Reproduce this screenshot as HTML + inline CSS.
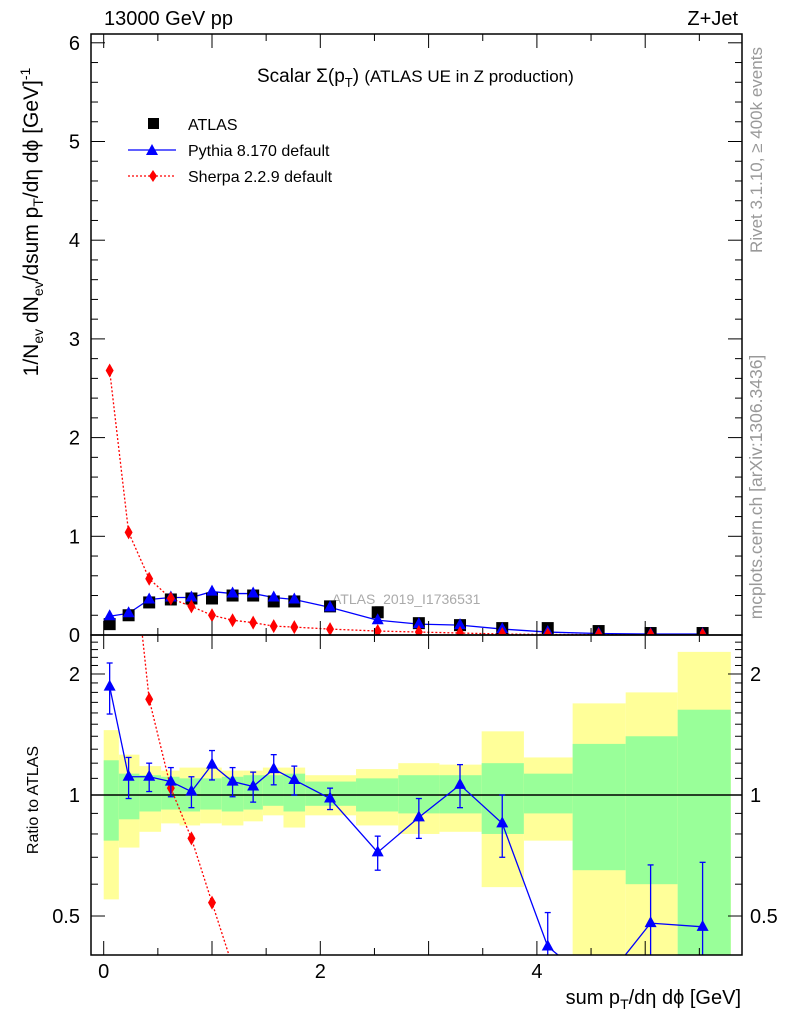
<!DOCTYPE html>
<html><head><meta charset="utf-8">
<style>
html,body{margin:0;padding:0;background:#fff;overflow:hidden;width:786px;height:1024px;}
svg{display:block;font-family:"Liberation Sans",sans-serif;}
</style></head>
<body>
<svg id="chart" width="786" height="1024" viewBox="0 0 786 1024" xmlns="http://www.w3.org/2000/svg">
<text x="104" y="25" font-size="20">13000 GeV pp</text>
<text x="738" y="25" font-size="20" text-anchor="end">Z+Jet</text>
<text x="257" y="82" font-size="19">Scalar Σ(p<tspan font-size="13" dy="5">T</tspan><tspan dy="-5">) </tspan><tspan font-size="17">(ATLAS UE in Z production)</tspan></text>
<text transform="translate(762,150) rotate(-90)" font-size="17" fill="#999" text-anchor="middle">Rivet 3.1.10, ≥ 400k events</text>
<text transform="translate(762,487) rotate(-90)" font-size="17.5" fill="#999" text-anchor="middle">mcplots.cern.ch [arXiv:1306.3436]</text>
<text x="332" y="604" font-size="14" fill="#aaa">ATLAS_2019_I1736531</text>
<text transform="translate(38,222) rotate(-90)" font-size="21" text-anchor="middle">1/N<tspan font-size="14" dy="5">ev</tspan><tspan dy="-5"> dN</tspan><tspan font-size="14" dy="5">ev</tspan><tspan dy="-5">/dsum p</tspan><tspan font-size="14" dy="5">T</tspan><tspan dy="-5">/dη dϕ  [GeV]</tspan><tspan font-size="14" dy="-8">-1</tspan></text>
<text transform="translate(38,800) rotate(-90)" font-size="16" text-anchor="middle">Ratio to ATLAS</text>
<text x="741" y="1004" font-size="20" text-anchor="end">sum p<tspan font-size="14" dy="5">T</tspan><tspan dy="-5">/dη dϕ [GeV]</tspan></text>
<g id="legend">
<rect x="148" y="118" width="11" height="11" fill="#000"/>
<text x="188" y="130" font-size="16">ATLAS</text>
<line x1="128" y1="150" x2="176" y2="150" stroke="#00f" stroke-width="1.3"/>
<path d="M152,144 L158,155 L146,155Z" fill="#00f"/>
<text x="188" y="156" font-size="16">Pythia 8.170 default</text>
<line x1="128" y1="176" x2="176" y2="176" stroke="#f00" stroke-width="1.3" stroke-dasharray="2,2"/>
<path d="M153,170 L157,176 L153,182 L149,176Z" fill="#f00"/>
<text x="188" y="182" font-size="16">Sherpa 2.2.9 default</text>
</g>
<g id="plot"></g>
</svg>
<script>
const centers=[0.055,0.23,0.42,0.62,0.81,1.0,1.19,1.38,1.57,1.76,2.09,2.53,2.91,3.29,3.68,4.1,4.57,5.05,5.53];
const edges=[0,0.14,0.33,0.53,0.7,0.89,1.09,1.29,1.47,1.66,1.86,2.33,2.72,3.1,3.49,3.88,4.33,4.82,5.3,5.79];
const atlas=[0.11,0.20,0.33,0.36,0.37,0.37,0.40,0.40,0.34,0.34,0.29,0.23,0.12,0.10,0.07,0.07,0.04,0.02,0.02];
const pythia=[0.19,0.22,0.36,0.38,0.38,0.44,0.42,0.42,0.38,0.36,0.28,0.15,0.11,0.10,0.06,0.03,0.015,0.01,0.01];
const sherpa=[2.68,1.04,0.57,0.37,0.29,0.20,0.15,0.125,0.09,0.08,0.06,0.04,0.03,0.02,0.01,0.005,0.004,0.003,0.003];
const pyRatio=[1.86,1.11,1.11,1.08,1.02,1.19,1.08,1.05,1.16,1.09,0.98,0.72,0.88,1.06,0.85,0.42,0.33,0.48,0.47];
const pyRatioErr=[0.27,0.13,0.09,0.09,0.09,0.1,0.09,0.09,0.1,0.09,0.06,0.07,0.1,0.13,0.15,0.09,0.05,0.19,0.21];
const shRatio=[24.4,5.2,1.73,1.04,0.78,0.54,0.375,0.31,0.26,0.24,0.21,0.17,0.25,0.2,0.14,0.07,0.1,0.15,0.15];
const yelHi=[1.45,1.26,1.18,1.15,1.17,1.17,1.15,1.15,1.17,1.17,1.12,1.16,1.20,1.19,1.44,1.24,1.69,1.80,2.27];
const yelLo=[0.55,0.74,0.81,0.85,0.84,0.85,0.84,0.86,0.89,0.83,0.89,0.84,0.80,0.81,0.59,0.77,0.3,0.3,0.3];
const grnHi=[1.22,1.13,1.12,1.11,1.10,1.10,1.11,1.12,1.12,1.13,1.08,1.10,1.12,1.12,1.20,1.13,1.34,1.40,1.63];
const grnLo=[0.77,0.87,0.91,0.92,0.91,0.92,0.91,0.92,0.94,0.91,0.94,0.91,0.90,0.90,0.80,0.90,0.65,0.60,0.3];
const yTicks=[0,1,2,3,4,5,6];
const xTicks=[0,2,4];
const rTicks=[0.5,1,2];

const NS="http://www.w3.org/2000/svg";
const g=document.getElementById('plot');
const L=91,R=742,T=34,M=635,B=955;
const X=v=>103.7+v*108.3;
const Y=v=>635-v*98.7;
const RY=r=>795-Math.log10(r)*402;
function mk(tag,attrs,parent){const e=document.createElementNS(NS,tag);for(const k in attrs)e.setAttribute(k,attrs[k]);(parent||g).appendChild(e);return e;}
const clipDefs=mk('defs',{});
const c1=mk('clipPath',{id:'ctop'},clipDefs);mk('rect',{x:L,y:T,width:R-L,height:M-T},c1);
const c2=mk('clipPath',{id:'cbot'},clipDefs);mk('rect',{x:L,y:M,width:R-L,height:B-M},c2);
const gt=mk('g',{'clip-path':'url(#ctop)'});
const gb=mk('g',{'clip-path':'url(#cbot)'});

for(let i=0;i<centers.length;i++){
  const x0=X(edges[i]),x1=X(edges[i+1]);
  const b=mk('rect',{x:x0,y:RY(yelHi[i]),width:x1-x0,height:RY(yelLo[i])-RY(yelHi[i]),fill:'#ffff99'},gb);
  
  
  const gg=mk('rect',{x:x0,y:RY(grnHi[i]),width:x1-x0,height:RY(grnLo[i])-RY(grnHi[i]),fill:'#99ff99'},gb);
  
  
}
mk('line',{x1:L,x2:R,y1:RY(1),y2:RY(1),stroke:'#000','stroke-width':1.5},gb);

function poly(vals,fy,color,dash,parent,name){
  const pts=centers.map((c,i)=>X(c)+','+fy(vals[i])).join(' ');
  const p=mk('polyline',{points:pts,fill:'none',stroke:color,'stroke-width':1.3},parent);
  if(dash)p.setAttribute('stroke-dasharray',dash);
  
  
}
poly(sherpa,Y,'#f00','2,2',gt,'sherpa-line');
poly(pythia,Y,'#00f',null,gt,'pythia-line');
atlas.forEach((v,i)=>{const r=mk('rect',{x:X(centers[i])-6,y:Y(v)-6,width:12,height:12,fill:'#000'},gt);
  
  });
function tri(x,y,parent,name){const p=mk('path',{d:`M${x},${y-7} L${x+6},${y+4} L${x-6},${y+4}Z`,fill:'#00f'},parent);
  
  }
function dia(x,y,parent,name){const p=mk('path',{d:`M${x},${y-7} L${x+4},${y} L${x},${y+7} L${x-4},${y}Z`,fill:'#f00'},parent);
  
  }
pythia.forEach((v,i)=>tri(X(centers[i]),Y(v),gt,'pythia-point'));
sherpa.forEach((v,i)=>dia(X(centers[i]),Y(v),gt,'sherpa-point'));

poly(shRatio,RY,'#f00','2,2',gb,'sherpa-ratio-line');
shRatio.forEach((v,i)=>dia(X(centers[i]),RY(v),gb,'sherpa-ratio-point'));
poly(pyRatio,RY,'#00f',null,gb,'pythia-ratio-line');
pyRatio.forEach((v,i)=>{
  const x=X(centers[i]);const lo=Math.max(v-pyRatioErr[i],0.2);
  mk('line',{x1:x,x2:x,y1:RY(v+pyRatioErr[i]),y2:RY(lo),stroke:'#00f','stroke-width':1.3},gb);
  mk('line',{x1:x-3,x2:x+3,y1:RY(v+pyRatioErr[i]),y2:RY(v+pyRatioErr[i]),stroke:'#00f','stroke-width':1.3},gb);
  mk('line',{x1:x-3,x2:x+3,y1:RY(lo),y2:RY(lo),stroke:'#00f','stroke-width':1.3},gb);
  tri(x,RY(v),gb,'pythia-ratio-point');
});

const f1=mk('rect',{x:L,y:T,width:R-L,height:M-T,fill:'none',stroke:'#000','stroke-width':1.5});


const f2=mk('rect',{x:L,y:M,width:R-L,height:B-M,fill:'none',stroke:'#000','stroke-width':1.5});



for(let v=0;v<=6.0001;v+=0.2){const y=Y(v);const big=Math.abs(v-Math.round(v))<1e-6;const l=big?14:7;
  mk('line',{x1:L,x2:L+l,y1:y,y2:y,stroke:'#000'});mk('line',{x1:R,x2:R-l,y1:y,y2:y,stroke:'#000'});}
yTicks.forEach(v=>{const t=mk('text',{x:80,y:Y(v)+7,'font-size':20,'text-anchor':'end'});t.textContent=v;
  
  });
for(let v=0;v<=5.8;v+=0.5){const x=X(v);const l=(Math.abs(v%1)<1e-6)?14:7;
  mk('line',{x1:x,x2:x,y1:M,y2:M-l,stroke:'#000'});mk('line',{x1:x,x2:x,y1:T,y2:T+l,stroke:'#000'});
  mk('line',{x1:x,x2:x,y1:B,y2:B-l,stroke:'#000'});mk('line',{x1:x,x2:x,y1:M,y2:M+l,stroke:'#000'});}
xTicks.forEach(v=>{const t=mk('text',{x:X(v),y:978,'font-size':20,'text-anchor':'middle'});t.textContent=v;
  
  });
[0.5,0.6,0.7,0.8,0.9,1,1.1,1.2,1.3,1.4,1.5,1.6,1.7,1.8,1.9,2,2.1,2.2,2.3,2.4].forEach(v=>{const y=RY(v);const big=rTicks.includes(v);const l=big?14:7;
  mk('line',{x1:L,x2:L+l,y1:y,y2:y,stroke:'#000'});mk('line',{x1:R,x2:R-l,y1:y,y2:y,stroke:'#000'});});
rTicks.forEach(v=>{const t=mk('text',{x:80,y:RY(v)+7,'font-size':20,'text-anchor':'end'});t.textContent=v;
  
  
  const t2=mk('text',{x:750,y:RY(v)+7,'font-size':20});t2.textContent=v;
  
  });
</script>
</body></html>
